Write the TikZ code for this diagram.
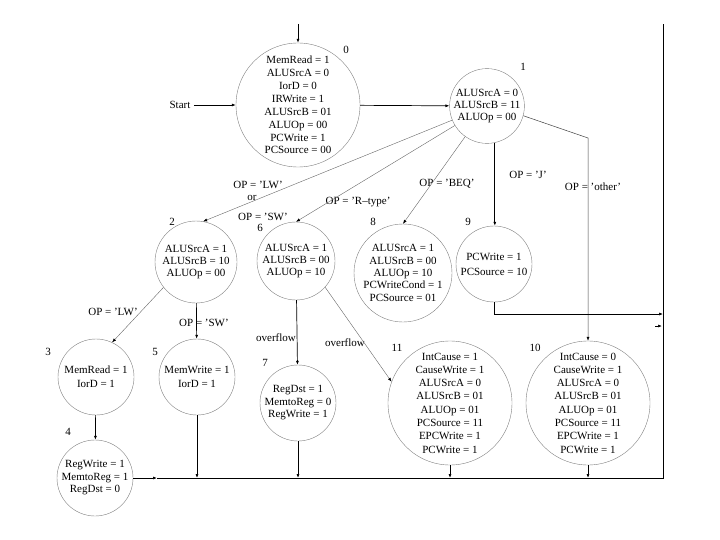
\documentclass[tikz,border=0pt]{standalone}
\usepackage{fontspec}
\setmainfont{Liberation Serif}
\usetikzlibrary{arrows.meta, positioning}

\begin{document}
\begin{tikzpicture}[
    x=1pt, y=-1pt,
    every node/.style={font=\fontsize{11}{12.9}\selectfont, align=center},
    state/.style={circle, draw=black!50, line width=0.4pt, inner sep=0pt},
    num/.style={font=\fontsize{11}{12}\selectfont, inner sep=1pt},
    arrow/.style={-{Latex[length=4pt,width=3pt]}, line width=0.7pt},
    thinarrow/.style={-{Latex[length=4pt,width=3pt,color=black]}, line width=0.4pt, draw=black!60},
    bus/.style={line width=0.9pt}
]
\useasboundingbox (0,0) rectangle (720,540);

% NODES
\node[state, minimum size=124pt] (s0) at (298,105) {MemRead = 1\\ALUSrcA = 0\\IorD = 0\\IRWrite = 1\\ALUSrcB = 01\\ALUOp = 00\\PCWrite = 1\\PCSource = 00};
\node[state, minimum size=68pt, font=\fontsize{11}{12}\selectfont] (s1) at (487,106) {ALUSrcA = 0\\ALUSrcB = 11\\ALUOp = 00};
\node[state, minimum size=82pt, font=\fontsize{11}{12}\selectfont] (s2) at (196,262) {ALUSrcA = 1\\ALUSrcB = 10\\ALUOp = 00};
\node[state, minimum size=78pt, font=\fontsize{11}{12}\selectfont] (s6) at (296,261) {ALUSrcA = 1\\ALUSrcB = 00\\ALUOp = 10};
\node[state, minimum size=98pt, font=\fontsize{11}{12.3}\selectfont] (s8) at (403,273) {ALUSrcA = 1\\ALUSrcB = 00\\ALUOp = 10\\PCWriteCond = 1\\PCSource = 01};
\node[state, minimum size=76pt, font=\fontsize{11}{15}\selectfont] (s9) at (494,264) {PCWrite = 1\\PCSource = 10};
\node[state, minimum size=76pt, font=\fontsize{11}{14}\selectfont] (s3) at (96,377) {MemRead = 1\\IorD = 1};
\node[state, minimum size=76pt, font=\fontsize{11}{14}\selectfont] (s5) at (197,377) {MemWrite = 1\\IorD = 1};
\node[state, minimum size=76pt, font=\fontsize{11}{12.5}\selectfont] (s4) at (95,478) {RegWrite = 1\\MemtoReg = 1\\RegDst = 0};
\node[state, minimum size=76pt, font=\fontsize{11}{12.5}\selectfont] (s7) at (298,403) {RegDst = 1\\MemtoReg = 0\\RegWrite = 1};
\node[state, minimum size=124pt, font=\fontsize{11}{13.3}\selectfont] (s11) at (450,403) {IntCause = 1\\CauseWrite = 1\\ALUSrcA = 0\\ALUSrcB = 01\\ALUOp = 01\\PCSource = 11\\EPCWrite = 1\\PCWrite = 1};
\node[state, minimum size=124pt, font=\fontsize{11}{13.3}\selectfont] (s10) at (588,403) {IntCause = 0\\CauseWrite = 1\\ALUSrcA = 0\\ALUSrcB = 01\\ALUOp = 01\\PCSource = 11\\EPCWrite = 1\\PCWrite = 1};

% state numbers
\node[num] (n0) at (346,50) {0};
\node[num] (n1) at (523,67) {1};
\node[num] (n2) at (172,222) {2};
\node[num] (n6) at (260,228) {6};
\node[num] (n8) at (373,222) {8};
\node[num] (n9) at (468,222) {9};
\node[num] (n3) at (48,352) {3};
\node[num] (n5) at (155,352) {5};
\node[num] (n4) at (68,432) {4};
\node[num] (n7) at (265,363) {7};
\node[num] (n11) at (397,348) {11};
\node[num] (n10) at (535,348) {10};

% condition labels
\node (start) at (180,105) {Start};
\node (lw1) at (258,185) {OP = 'LW'};
\node (or1) at (252,198) {or};
\node (sw1) at (263,217) {OP = 'SW'};
\node (rtype) at (358,202) {OP = 'R--type'};
\node (beq) at (447,184) {OP = 'BEQ'};
\node (jmp) at (528,175) {OP = 'J'};
\node (other) at (593,187) {OP = 'other'};
\node (lw2) at (113,312) {OP = 'LW'};
\node (sw2) at (204,323) {OP = 'SW'};
\node (ovf1) at (276,338) {overflow};
\node (ovf2) at (345,343) {overflow};

% COORDINATES
\coordinate (top0) at (298,24);
\coordinate (topR) at (663,24);
\coordinate (corner) at (663,478);
\coordinate (j4) at (157,478);
\coordinate (r9) at (663,314);
\coordinate (bend10) at (588,138);
\coordinate (stubA) at (655,326);
\coordinate (stubB) at (662,326);

% ARROWS
\draw[arrow] (top0) -- (s0);
\draw[arrow] (start) -- (s0);
\draw[arrow] (s0) -- (s1);
\draw[thinarrow] (s1) -- (s2.80);
\draw[thinarrow] (s1) -- (s6.north);
\draw[thinarrow] (s1) -- (s8.north);
\draw[arrow] (s1.-78) -- (s1.-78 |- s9.north);
\draw[thinarrow, draw=black!75, line width=0.5pt] (s1.-15) -- (bend10) -- (s10.north);
\draw[thinarrow] (s2.218) -- (s3.65);
\draw[arrow] (s2) -- (s5);
\draw[arrow] (s3) -- (s4);
\draw[arrow] (s6) -- (s7);
\draw[thinarrow] (s6.-42) -- (s11.160);
\draw[arrow] (s9.south) |- (r9);
\draw[arrow] (stubA) -- (stubB);
\draw[arrow] (s4.east) -- (j4);
\draw[bus] (j4) -- (corner) -- (topR);
\draw[arrow] (s5) -- (s5 |- corner);
\draw[arrow] (s7) -- (s7 |- corner);
\draw[arrow] (s11) -- (s11 |- corner);
\draw[arrow] (s10) -- (s10 |- corner);

\end{tikzpicture}
\end{document}
